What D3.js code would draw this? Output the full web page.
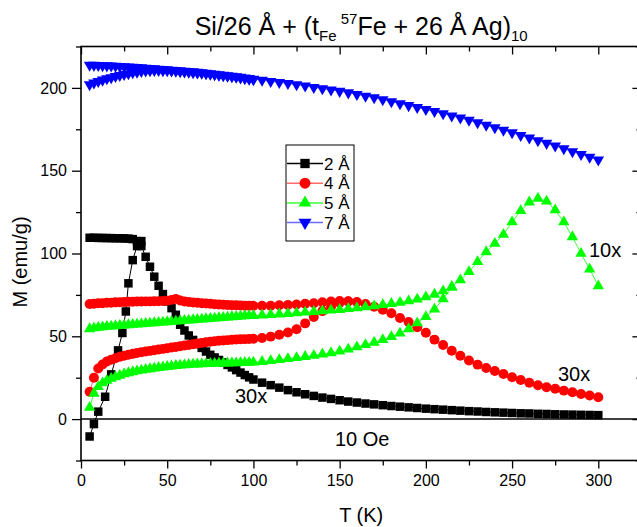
<!DOCTYPE html>
<html>
<head>
<meta charset="utf-8">
<script src="https://cdn.jsdelivr.net/npm/d3@7"></script>
<style>
  html, body { margin: 0; padding: 0; background: #fff; }
  svg { display: block; font-family: "Liberation Sans", Arial, sans-serif; }
</style>
</head>
<body>
<svg id="chart" width="637" height="527"></svg>
<script>
// Temperature grids (K)
const tempLow = [5, 7.5, 10, 12.5, 15, 17.5, 20, 22.5, 25, 27.5,
                 30, 32.5, 35, 37.5, 40, 42.5, 45, 47.5, 50, 52.5,
                 55, 57.5, 60, 62.5, 65, 67.5, 70, 72.5, 75, 77.5,
                 80, 82.5, 85, 87.5, 90, 92.5, 95, 97.5, 100];
const tempHigh = [105, 110, 115, 120, 125, 130, 135, 140, 145, 150,
                  155, 160, 165, 170, 175, 180, 185, 190, 195, 200,
                  205, 210, 215, 220, 225, 230, 235, 240, 245, 250,
                  255, 260, 265, 270, 275, 280, 285, 290, 295, 300];

// t_Fe = 2 Å (shown 30x)
const fc2 = [109.5, 109.5, 109.4, 109.4, 109.3, 109.3, 109.2, 109.2, 109.1, 109.0,
             108.7, 107.5, 104.5, 98.0, 92.0, 86.0, 80.5, 75.5, 71.0, 67.0,
             63.0, 57.0, 53.5, 50.5, 47.8, 45.3, 43.0, 40.8, 38.8, 37.2,
             35.7, 34.2, 32.7, 31.2, 29.6, 28.1, 26.6, 25.2, 23.9,
             22.0, 20.5, 19.0, 17.5, 16.2, 15.0, 14.0, 13.0, 12.2, 11.4,
             10.6, 10.0, 9.4, 8.9, 8.4, 7.9, 7.5, 7.1, 6.7, 6.3,
             6.0, 5.7, 5.4, 5.1, 4.8, 4.6, 4.3, 4.1, 3.9, 3.7,
             3.5, 3.4, 3.2, 3.1, 2.9, 2.8, 2.7, 2.6, 2.5, 2.4];
const zfc2Temp = [5, 7.5, 10, 14, 17.5, 21.5, 24, 26, 27.5, 30, 32.5, 35];
const zfc2 = [-10.5, -3.0, 4.5, 13.5, 27.0, 41.5, 52.0, 65.0, 82.0, 96.0, 104.5, 107.5];

// t_Fe = 4 Å (shown 30x)
const fc4 = [69.5, 69.7, 69.9, 70.0, 70.2, 70.3, 70.5, 70.6, 70.7, 70.8,
             70.9, 71.0, 71.0, 71.1, 71.1, 71.2, 71.2, 71.3, 71.5, 72.0,
             72.6, 71.6, 71.0, 70.7, 70.4, 70.2, 70.0, 69.8, 69.6, 69.4,
             69.2, 69.0, 68.9, 68.8, 68.7, 68.6, 68.5, 68.4, 68.4,
             68.4, 68.5, 68.7, 68.9, 69.2, 69.6, 70.0, 70.5, 71.0, 71.3,
             71.2, 70.7, 69.5, 67.8, 66.0, 63.9, 61.0, 58.6, 55.5, 52.2,
             48.0, 44.8, 41.3, 38.2, 35.4, 32.9, 30.8, 29.0, 27.2, 25.3,
             23.6, 22.0, 20.5, 19.2, 18.3, 17.2, 16.2, 15.2, 14.2, 13.2];
const zfc4 = [16.5, 25.0, 30.5, 33.0, 34.8, 35.9, 36.8, 37.6, 38.3, 38.9,
              39.4, 39.9, 40.4, 40.8, 41.2, 41.6, 42.0, 42.4, 42.8, 43.2,
              43.6, 44.0, 44.4, 44.8, 45.2, 45.6, 46.0, 46.4, 46.7, 47.0,
              47.3, 47.5, 47.7, 47.9, 48.1, 48.2, 48.3, 48.4, 48.5,
              49.0, 49.8, 50.9, 52.3, 54.2, 57.8, 61.6, 65.2, 68.0, 70.2, 71.0];

// t_Fe = 5 Å (shown 10x)
const fc5 = [54.5, 55.0, 55.3, 55.6, 55.9, 56.1, 56.3, 56.5, 56.7, 56.9,
             57.1, 57.3, 57.5, 57.7, 57.9, 58.1, 58.3, 58.5, 58.7, 58.9,
             59.1, 59.3, 59.5, 59.7, 59.9, 60.1, 60.3, 60.5, 60.7, 60.9,
             61.1, 61.3, 61.5, 61.7, 61.9, 62.1, 62.3, 62.4, 62.5,
             62.8, 63.1, 63.4, 63.7, 64.1, 64.5, 64.9, 65.3, 65.7, 66.1,
             66.6, 67.1, 67.7, 68.3, 69.0, 69.7, 70.4, 71.3, 72.4, 73.7,
             75.3, 77.3, 80.0, 84.0, 89.0, 95.0, 101.0, 106.0, 111.5, 119.0,
             125.8, 131.0, 133.3, 131.5, 126.3, 119.0, 110.0, 100.0, 90.5, 80.4];
const zfc5 = [7.0, 15.5, 19.5, 21.8, 23.3, 24.5, 25.5, 26.4, 27.2, 27.9,
              28.5, 29.0, 29.5, 29.9, 30.3, 30.7, 31.1, 31.4, 31.7, 32.0,
              32.3, 32.5, 32.7, 32.9, 33.1, 33.2, 33.3, 33.4, 33.5, 33.6,
              33.7, 33.75, 33.8, 33.85, 33.9, 34.0, 34.1, 34.2, 34.3,
              34.7, 35.2, 35.8, 36.4, 37.0, 37.7, 38.4, 39.2, 40.0, 41.0,
              42.2, 43.5, 44.9, 46.3, 47.9, 49.7, 51.8, 54.5, 58.0, 61.8,
              66.3, 72.5, 79.5];

// t_Fe = 7 Å
const fc7 = [213.8, 213.7, 213.6, 213.5, 213.4, 213.3, 213.2, 213.0, 212.9, 212.7,
             212.6, 212.4, 212.2, 212.0, 211.8, 211.6, 211.4, 211.2, 211.0, 210.8,
             210.6, 210.4, 210.2, 210.0, 209.8, 209.6, 209.3, 209.0, 208.7, 208.4,
             208.1, 207.8, 207.5, 207.2, 206.9, 206.5, 206.1, 205.7, 205.3,
             204.7, 204.0, 203.4, 202.7, 202.0, 201.2, 200.4, 199.6, 198.8, 198.0,
             197.1, 196.1, 195.1, 194.1, 193.0, 191.8, 190.6, 189.4, 188.2, 187.0,
             185.8, 184.5, 183.2, 181.9, 180.5, 179.0, 177.5, 176.0, 174.5, 173.0,
             171.4, 169.8, 168.2, 166.6, 165.0, 163.3, 161.6, 159.9, 158.2, 156.5];
const zfc7 = [202.0, 203.0, 204.0, 204.8, 205.6, 206.3, 207.0, 207.6, 208.2, 208.7,
              209.2, 209.6, 210.0, 210.3, 210.5, 210.6, 210.6, 210.5, 210.4, 210.3,
              210.1, 209.9, 209.7, 209.5, 209.3, 209.1, 208.9, 208.6, 208.3, 208.0,
              207.7, 207.4, 207.1, 206.8, 206.5, 206.1, 205.7, 205.3, 205.0];

const seriesNames = ["2 Å", "4 Å", "5 Å", "7 Å"];
const seriesColors = ["#000000", "#ff0000", "#00ff00", "#0000ff"];
const lineColors = ["#000000", "#ff6a6a", "#3cff3c", "#6a6aff"];

const xTicksMajor = [0, 50, 100, 150, 200, 250, 300];
const xTicksMinor = [25, 75, 125, 175, 225, 275, 325];
const yTicksMajor = [0, 50, 100, 150, 200];
const yTicksMinor = [-25, 25, 75, 125, 175, 225];

const svg = d3.select("#chart");
const x = d3.scaleLinear().domain([0, 325]).range([81, 641.4]);
const y = d3.scaleLinear().domain([-25, 225]).range([460.5, 46.5]);

const tempAll = tempLow.concat(tempHigh);
const pair = (ts, ms) => ms.map((m, i) => [ts[i], m]);

const series = [
  { name: seriesNames[0], shape: d3.symbolSquare, size: 72, rot: 0,
    branches: [pair(zfc2Temp, zfc2), pair(tempAll, fc2)] },
  { name: seriesNames[1], shape: d3.symbolCircle, size: 78, rot: 0,
    branches: [pair(tempAll, zfc4), pair(tempAll, fc4)] },
  { name: seriesNames[2], shape: d3.symbolTriangle, size: 56, rot: 0,
    branches: [pair(tempAll, zfc5), pair(tempAll, fc5)] },
  { name: seriesNames[3], shape: d3.symbolTriangle, size: 58, rot: 180,
    branches: [pair(tempAll, zfc7), pair(tempAll, fc7)] }
];

// horizontal line at M = 0
svg.append("line")
  .attr("x1", x(0)).attr("x2", x(325))
  .attr("y1", y(0)).attr("y2", y(0))
  .attr("stroke", "#000").attr("stroke-width", 1.5);

// data: ZFC and FC branches of each film
const line = d3.line().x(d => x(d[0])).y(d => y(d[1]));
series.forEach((s, si) => {
  const g = svg.append("g");
  s.branches.forEach(b => {
    g.append("path").attr("d", line(b))
      .attr("fill", "none").attr("stroke", lineColors[si]).attr("stroke-width", 1);
  });
  const sym = d3.symbol().type(s.shape).size(s.size);
  s.branches.forEach(b => {
    g.selectAll(null).data(b).enter().append("path")
      .attr("d", sym)
      .attr("transform", d => `translate(${x(d[0])},${y(d[1])}) rotate(${s.rot})`)
      .attr("fill", seriesColors[si]);
  });
});

// axes
function styleAxis(g) {
  g.select(".domain").remove();
  g.selectAll("line").attr("stroke", "#000").attr("stroke-width", 1.3);
  g.selectAll("text").attr("fill", "#000").style("font-size", "16px")
    .style("font-family", "'Liberation Sans', Arial, sans-serif");
}
const H = 460.5, T0 = 46.5, L = 81, R = 641.4;
svg.append("g").attr("transform", `translate(0,${H})`)
  .call(d3.axisBottom(x).tickValues(xTicksMajor).tickSize(8).tickPadding(6).tickFormat(d3.format("d")))
  .call(styleAxis);
svg.append("g").attr("transform", `translate(0,${H})`)
  .call(d3.axisBottom(x).tickValues(xTicksMinor).tickSize(5).tickFormat(""))
  .call(styleAxis);
svg.append("g").attr("transform", `translate(0,${T0})`)
  .call(d3.axisBottom(x).tickValues(xTicksMajor).tickSize(8).tickFormat(""))
  .call(styleAxis);
svg.append("g").attr("transform", `translate(0,${T0})`)
  .call(d3.axisBottom(x).tickValues(xTicksMinor).tickSize(5).tickFormat(""))
  .call(styleAxis);
svg.append("g").attr("transform", `translate(${L},0)`)
  .call(d3.axisLeft(y).tickValues(yTicksMajor).tickSize(9).tickPadding(5).tickFormat(d3.format("d")))
  .call(styleAxis);
svg.append("g").attr("transform", `translate(${L},0)`)
  .call(d3.axisLeft(y).tickValues(yTicksMinor).tickSize(5).tickFormat(""))
  .call(styleAxis);
svg.append("g").attr("transform", `translate(${R},0)`)
  .call(d3.axisLeft(y).tickValues(yTicksMajor).tickSize(9).tickFormat(""))
  .call(styleAxis);
svg.append("g").attr("transform", `translate(${R},0)`)
  .call(d3.axisLeft(y).tickValues(yTicksMinor).tickSize(5).tickFormat(""))
  .call(styleAxis);

// frame
svg.append("rect").attr("x", L).attr("y", T0).attr("width", R - L).attr("height", H - T0)
  .attr("fill", "none").attr("stroke", "#000").attr("stroke-width", 1.6);

// axis titles
svg.append("text").attr("x", (L + R) / 2).attr("y", 522).attr("text-anchor", "middle")
  .style("font-size", "20px").text("T (K)");
svg.append("text").attr("transform", "translate(27,262) rotate(-90)").attr("text-anchor", "middle")
  .style("font-size", "20px").text("M (emu/g)");

// title
const title = svg.append("text").attr("x", (L + R) / 2).attr("y", 35).attr("text-anchor", "middle")
  .style("font-size", "25px");
title.append("tspan").text("Si/26 Å + (t");
title.append("tspan").attr("dy", 6).style("font-size", "15px").text("Fe");
title.append("tspan").attr("dy", -17).style("font-size", "15px").text(" 57");
title.append("tspan").attr("dy", 11).text("Fe + 26 Å Ag)");
title.append("tspan").attr("dy", 6).style("font-size", "15px").text("10");

// scale factors and field
const notes = [
  { t: "30x", x: 235, y: 403 },
  { t: "30x", x: 558, y: 381 },
  { t: "10x", x: 589, y: 257 },
  { t: "10 Oe", x: 335, y: 446 }
];
svg.selectAll(null).data(notes).enter().append("text")
  .attr("x", d => d.x).attr("y", d => d.y)
  .style("font-size", "20px").text(d => d.t);

// legend
const lg = svg.append("g");
lg.append("rect").attr("x", 286).attr("y", 145).attr("width", 68).attr("height", 96)
  .attr("fill", "#fff").attr("stroke", "#000").attr("stroke-width", 1);
series.forEach((s, i) => {
  const yy = 163.5 + i * 19.7;
  lg.append("line").attr("x1", 287).attr("x2", 323).attr("y1", yy).attr("y2", yy)
    .attr("stroke", lineColors[i]).attr("stroke-width", 1.5);
  lg.append("path").attr("d", d3.symbol().type(s.shape).size(s.size + 15)())
    .attr("transform", `translate(305,${yy}) rotate(${s.rot})`)
    .attr("fill", seriesColors[i]);
  lg.append("text").attr("x", 324).attr("y", yy + 6).style("font-size", "17px").text(s.name);
});
</script>
</body>
</html>
